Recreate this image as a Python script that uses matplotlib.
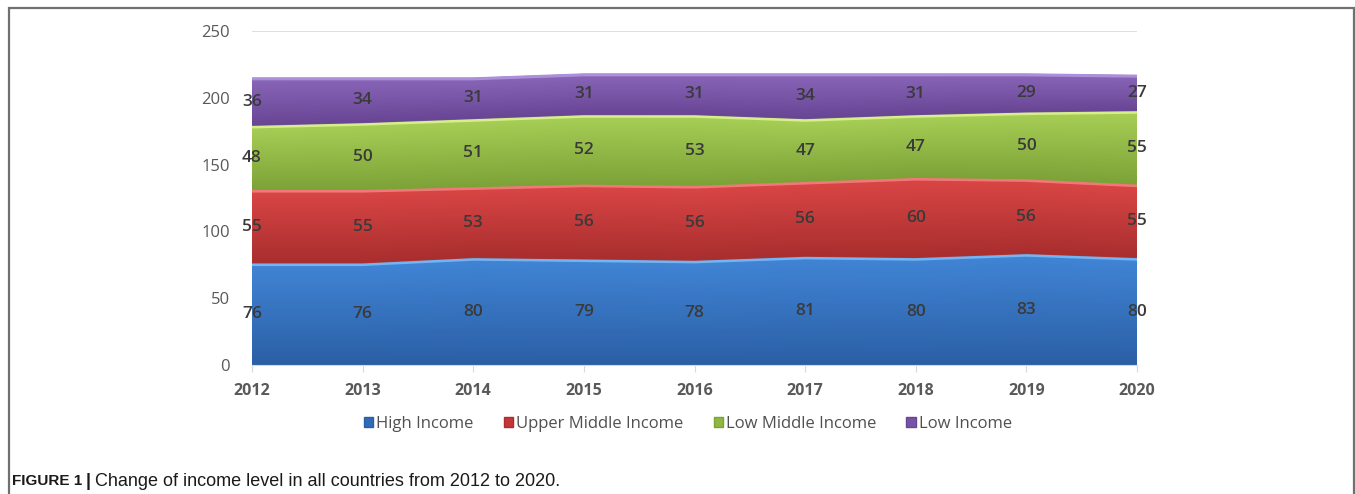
import numpy as np
import matplotlib
matplotlib.use("Agg")
import matplotlib.pyplot as plt
from matplotlib.colors import to_rgb
from matplotlib.patches import Rectangle

years = [2012, 2013, 2014, 2015, 2016, 2017, 2018, 2019, 2020]
high_income = [76, 76, 80, 79, 78, 81, 80, 83, 80]
upper_middle = [55, 55, 53, 56, 56, 56, 60, 56, 55]
low_middle = [48, 50, 51, 52, 53, 47, 47, 50, 55]
low_income = [36, 34, 31, 31, 31, 34, 31, 29, 27]
series_names = ["High Income", "Upper Middle Income", "Low Middle Income", "Low Income"]
yticks = [0, 50, 100, 150, 200, 250]

series = [high_income, upper_middle, low_middle, low_income]
# (top colour, bottom colour, highlight, legend colour)
styles = [
    ("#4185d6", "#2b5fa5", "#74b4f2", "#2f6bb8"),
    ("#db4646", "#a92e2e", "#f27878", "#c53737"),
    ("#a8d056", "#7da238", "#d6ee8c", "#8fb843"),
    ("#8a66ba", "#684694", "#ab8fd8", "#7753a6"),
]

fig = plt.figure(figsize=(13.55, 4.94), dpi=100)
ax = fig.add_axes([252 / 1355, 129 / 494, (1137 - 252) / 1355, (365 - 31) / 494])

x = np.array(years, dtype=float)
base = np.zeros(len(x))
ax.set_xlim(x[0], x[-1])
ax.set_ylim(0, 250)

xs = np.linspace(x[0], x[-1], 600)
ys = np.linspace(0, 250, 500)
XX, YY = np.meshgrid(xs, ys)

for vals, (ctop, cbot, chl, _) in zip(series, styles):
    v = np.array(vals, dtype=float)
    top = base + v
    poly = ax.fill_between(x, base, top, facecolor="none", edgecolor="none", zorder=1)
    lo = np.interp(xs, x, base)
    hi = np.interp(xs, x, top)
    f = np.clip((YY - lo[None, :]) / (hi - lo)[None, :], 0, 1)
    c1 = np.array(to_rgb(cbot))
    c2 = np.array(to_rgb(ctop))
    img = c1[None, None, :] * (1 - f[..., None]) + c2[None, None, :] * f[..., None]
    im = ax.imshow(img, extent=(x[0], x[-1], 0, 250), origin="lower", aspect="auto",
                   zorder=1, interpolation="bilinear")
    path = poly.get_paths()[0]
    im.set_clip_path(path, transform=ax.transData)
    ax.plot(x, top - 0.8, color=chl, lw=2.2, zorder=2, solid_capstyle="butt")
    ax.plot(x, base + 0.5, color=cbot, lw=1.0, alpha=0.9, zorder=2)
    for xi, b, vi in zip(x, base, v):
        ax.text(xi, b + vi / 2, f"{int(vi)}", ha="center", va="center", fontsize=12.5,
                fontweight="semibold", color="#3a3a3a", family="Open Sans", zorder=4)
    base = top

ax.axhline(250, color="#d9d9d9", lw=1.2, zorder=0)
for s in ["left", "top", "right"]:
    ax.spines[s].set_visible(False)
ax.spines["bottom"].set_color("#d9d9d9")
ax.spines["bottom"].set_zorder(3)
ax.set_xticks(years)
ax.set_xticklabels([str(y) for y in years], fontsize=11.5, fontweight="bold",
                   color="#595959", family="Open Sans")
ax.tick_params(axis="x", length=5, color="#d9d9d9", pad=8)
ax.set_yticks(yticks)
ax.set_yticklabels([str(t) for t in yticks], fontsize=12, fontweight="medium",
                   color="#595959", family="Open Sans")
ax.tick_params(axis="y", length=0, pad=16)

handles = [Rectangle((0, 0), 1, 1, facecolor=s[3], edgecolor=s[1]) for s in styles]
fig.legend(handles, series_names, loc="center", bbox_to_anchor=(688 / 1355, 1 - 424 / 494),
           ncol=4, frameon=False, handlelength=0.55, handleheight=0.6,
           handletextpad=0.2, columnspacing=1.8,
           prop={"family": "Open Sans", "size": 12})
for t in fig.legends[0].get_texts():
    t.set_color("#505050")

fig.patches.append(Rectangle((9 / 1355, -0.1), (1354 - 9) / 1355, (494 - 8) / 494 + 0.1,
                             transform=fig.transFigure, fill=False, edgecolor="#707070",
                             lw=1.6, zorder=10))

ycap = 1 - 481 / 494
fig.text(12 / 1355, ycap, "FIGURE 1", fontsize=11, fontweight="bold",
         family="Liberation Sans", va="center", ha="left", color="#1a1a1a")
fig.text(86 / 1355, ycap, "|", fontsize=13, fontweight="bold",
         family="Liberation Sans", va="center", ha="left", color="#1a1a1a")
fig.text(95 / 1355, ycap, "Change of income level in all countries from 2012 to 2020.",
         fontsize=13, family="Liberation Sans", va="center", ha="left", color="#1a1a1a")

fig.savefig("out.png", dpi=100)
